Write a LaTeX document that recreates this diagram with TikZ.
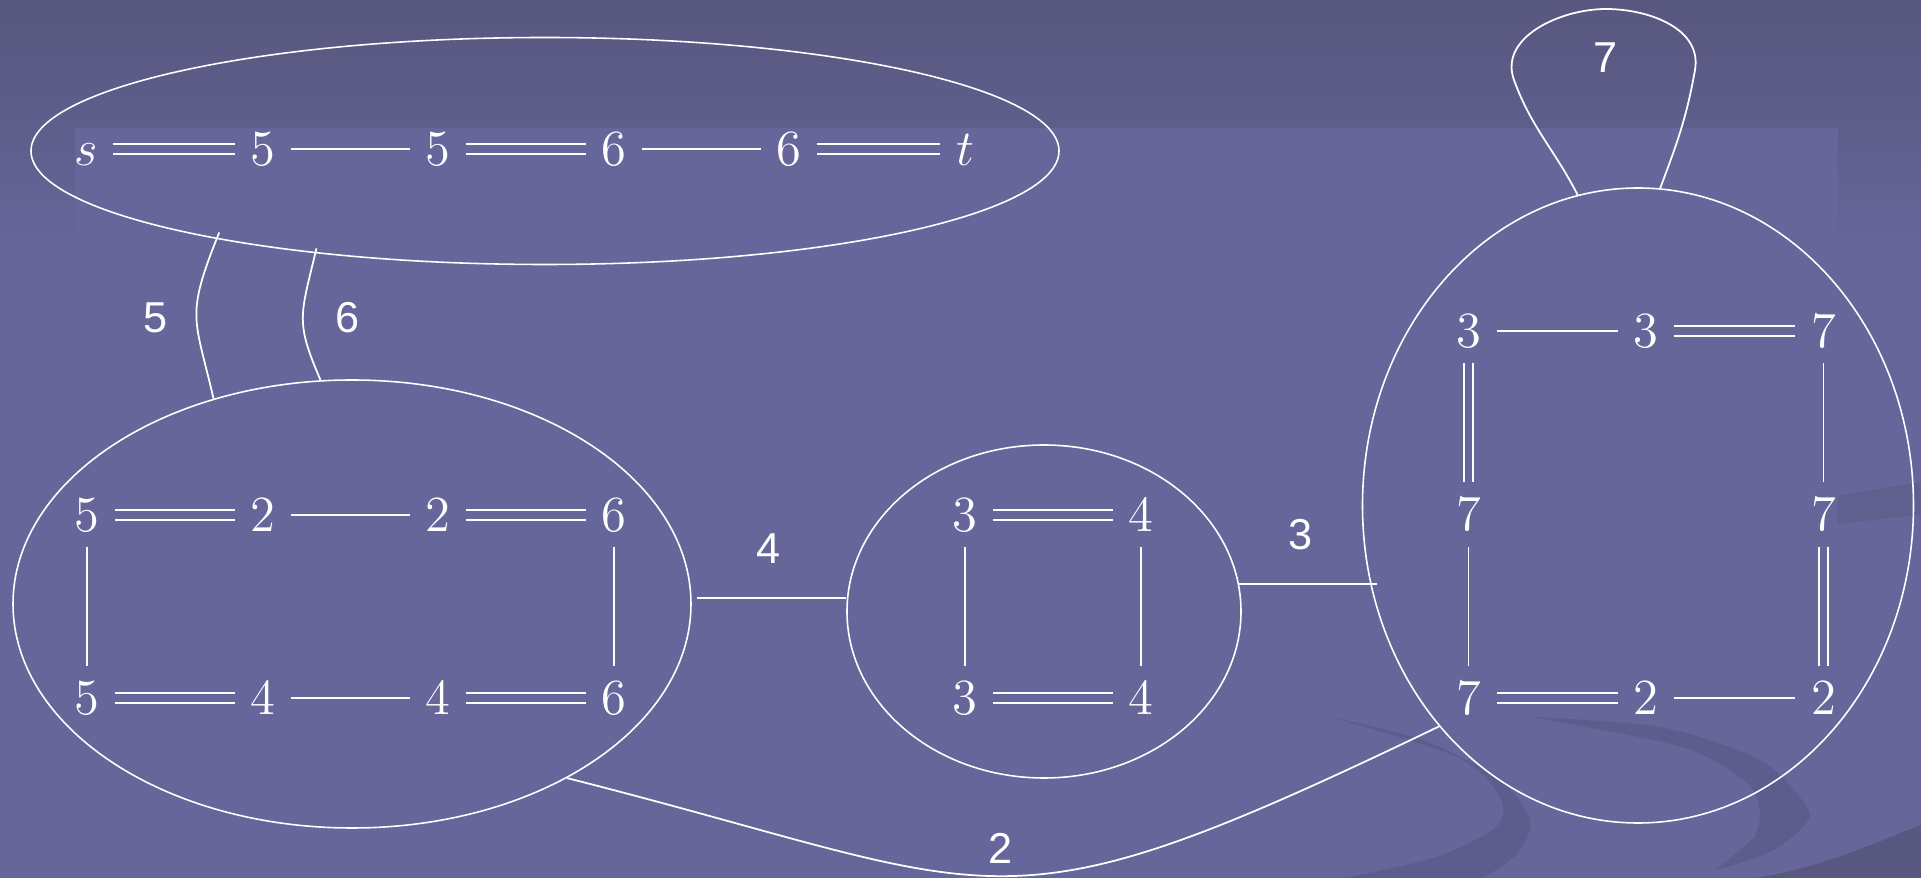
\documentclass[tikz,border=0pt]{standalone}
\usepackage{fontspec}
\usepackage{tikz}
\usepackage{xcolor}
\usetikzlibrary{
  shapes.geometric, calc,
}
\newfontfamily\lblfont{Liberation Sans}
\definecolor{cSlide}   {HTML}{66669A}
\definecolor{cSlideTop}{HTML}{57577F}
\definecolor{cSwoosh}  {HTML}{5D5D8D}
\definecolor{cBand}    {HTML}{60608F}

\tikzset{
  vtx/.style={inner sep=1.5mm, text height=9.3pt, text depth=0pt, font=\Large, text=white},
  blob/.style={draw=white, line width=0.45pt, ellipse, inner sep=0pt},
  sgl/.style={draw=white, line width=0.5pt},
  dbl/.style={draw=white, line width=0.5pt, double=cSlide, double distance=2.25pt},
  elab/.style={font=\lblfont\fontsize{12.3}{14}\selectfont, text=white},
}

\begin{document}
\begin{tikzpicture}
        \useasboundingbox (0,0) rectangle (19.21,-8.78);
        % slide background
        \fill[cSlide] (0,0) rectangle (19.21,-8.78);
        \shade[top color=cSlideTop, bottom color=cSlide] (0,0) rectangle (19.21,-2.6);
        \fill[cSwoosh] plot[smooth] coordinates {(13.30,-7.17) (14.23,-7.40) (15.00,-7.80) (15.30,-8.20) (15.18,-8.53) (14.83,-8.78)}
            -- plot[smooth] coordinates {(13.45,-8.78) (14.36,-8.57) (14.96,-8.27) (15.00,-7.97) (14.57,-7.57) (13.30,-7.17)} -- cycle;
        \fill[cSwoosh] plot[smooth] coordinates {(15.30,-7.17) (16.60,-7.27) (17.60,-7.60) (18.07,-8.07) (18.03,-8.27) (17.68,-8.53) (17.16,-8.70)}
            -- plot[smooth] coordinates {(17.55,-8.37) (17.60,-8.13) (17.47,-7.83) (16.82,-7.47) (15.30,-7.17)} -- cycle;
        \fill[cSlideTop] (19.21,-8.25) .. controls (18.7,-8.45) and (18.2,-8.68) .. (17.55,-8.78) -- (19.21,-8.78) -- cycle;
        \fill[cBand] (18.38,-4.955) -- (19.21,-4.82) -- (19.21,-5.145) -- (18.38,-5.24) -- cycle;
        \fill[cSlide] (0.75,-1.28) rectangle (18.38,-7.17);

        % contracted blobs
        \node[blob, minimum width=10.28cm, minimum height=2.27cm] (T) at (5.45,-1.51) {};
        \node[blob, minimum width=6.78cm, minimum height=4.48cm] (L) at (3.52,-6.04) {};
        \node[blob, minimum width=3.94cm, minimum height=3.33cm] (M) at (10.44,-6.115) {};
        \node[blob, minimum width=5.51cm, minimum height=6.35cm] (R) at (16.38,-5.055) {};

        % vertices
        \foreach \n/\x/\y/\v in
          {ts/0.86/-1.49/s, t1/2.63/-1.49/5, t2/4.38/-1.49/5, t3/6.14/-1.49/6, t4/7.89/-1.49/6, tt/9.65/-1.49/t,
           a1/0.87/-5.15/5, a2/2.63/-5.15/2, a3/4.38/-5.15/2, a4/6.14/-5.15/6,
           b1/0.87/-6.98/5, b2/2.63/-6.98/4, b3/4.38/-6.98/4, b4/6.14/-6.98/6,
           m1/9.65/-5.15/3, m2/11.41/-5.15/4, m3/9.65/-6.98/3, m4/11.41/-6.98/4,
           r1/14.685/-3.31/3, r2/16.46/-3.31/3, r3/18.235/-3.31/7,
           r4/14.685/-5.145/7, r5/18.235/-5.145/7,
           r6/14.685/-6.98/7, r7/16.46/-6.98/2, r8/18.235/-6.98/2}{
          \node[vtx] (\n) at (\x,\y) {$\v$};
        }
        % single and double bonds
        \foreach \a/\b in {t1/t2, t3/t4, a2/a3, b2/b3, a1/b1, a4/b4, m1/m3, m2/m4,
                           r1/r2, r7/r8, r3/r5, r4/r6}
          \draw[sgl] (\a) -- (\b);
        \foreach \a/\b in {ts/t1, t2/t3, t4/tt, a1/a2, a3/a4, b1/b2, b3/b4, m1/m2, m3/m4,
                           r2/r3, r1/r4, r5/r8, r6/r7}
          \draw[dbl] (\a) -- (\b);

        % edges between blobs
        \draw[sgl, shorten <=-0.7mm] (T.195.6) to[out=248, in=103, looseness=1.35]
            node[elab, left=1.6mm] {5} (L.124.5);
        \draw[sgl, shorten <=-0.5mm] (T.204.3) to[out=256.6, in=113.4, looseness=1.3]
            node[elab, right=2mm] {6} (L.98.8);
        \draw[sgl, shorten <=0.5mm] (L.1) -- (L.1 -| M.west) node[elab, midway, above=2.2mm] {4};
        \draw[sgl, shorten >=-1.5mm] (M.8.6) -- (M.8.6 -| R.west) node[elab, midway, above=2.2mm] {3};
        \draw[sgl] (L.-39.8) .. controls (10.13,-8.91) and (9.87,-9.44) .. node[elab, above] {2} (R.228.8);
        % self loop
        \coordinate (lpL) at (15.14,-0.80);
        \coordinate (lpT) at (16.06,-0.09);
        \coordinate (lpR) at (16.95,-0.70);
        \draw[sgl] (R.101.7) to[out=117, in=-70] (lpL) to[out=110, in=180] (lpT)
            node[elab, below=2.1mm] {7} to[out=0, in=80] (lpR) to[out=-100, in=69.4] (R.86.4);
      \end{tikzpicture}
\end{document}
